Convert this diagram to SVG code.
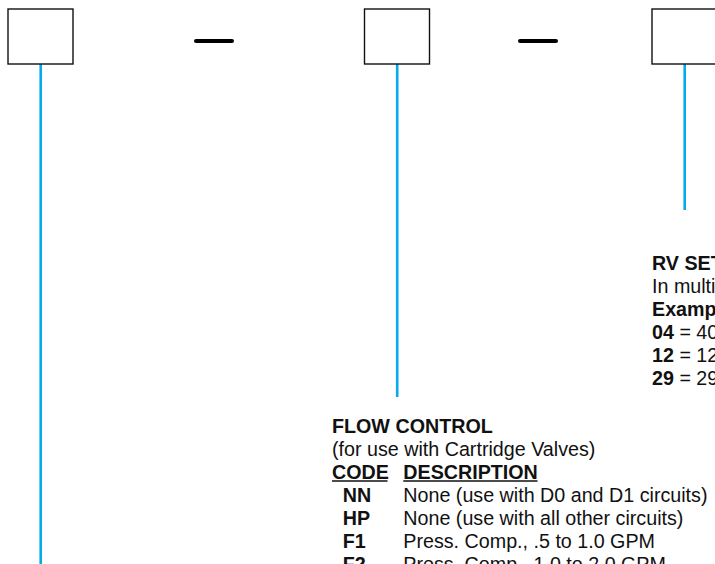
<svg xmlns="http://www.w3.org/2000/svg" width="715" height="564" viewBox="0 0 715 564">
<style>
.box{fill:#fff;stroke:#111;stroke-width:1.4}
.dash{stroke:#000;stroke-width:4;stroke-linecap:round}
.conn{stroke:#05aaea;stroke-width:2.6;fill:none}
text{font-family:"Liberation Sans",Arial,sans-serif;font-size:19.7px;fill:#111}
.b{font-weight:bold}
.ul{stroke:#111;stroke-width:1.5}
</style>
<rect width="715" height="564" fill="#fff"/>
<g id="connectors">
<line class="conn" x1="40.7" y1="64" x2="40.7" y2="564"/>
<line class="conn" x1="397.2" y1="64" x2="397.2" y2="397"/>
<line class="conn" x1="684.7" y1="64" x2="684.7" y2="210"/>
</g>
<g id="box1"><rect class="box" x="8" y="9" width="65" height="55"/></g>
<g id="dash1"><line class="dash" x1="196" y1="41" x2="232" y2="41"/></g>
<g id="box2"><rect class="box" x="364.5" y="9" width="65" height="55"/></g>
<g id="dash2"><line class="dash" x1="520" y1="41" x2="556" y2="41"/></g>
<g id="box3"><rect class="box" x="652" y="9" width="65" height="55"/></g>
<g id="rv-setting">
<text class="b" x="652" y="269.5">RV SET</text>
<text x="652" y="292.5">In multi</text>
<text class="b" x="652" y="315.5">Examp</text>
<text x="652" y="338.5"><tspan class="b">04</tspan> = 40</text>
<text x="652" y="361.5"><tspan class="b">12</tspan> = 12</text>
<text x="652" y="384.5"><tspan class="b">29</tspan> = 29</text>
</g>
<g id="flow-control">
<text class="b" x="332" y="432.5">FLOW CONTROL</text>
<text x="332" y="455.5">(for use with Cartridge Valves)</text>
<text class="b" x="332" y="478.5">CODE</text>
<text class="b" x="403.3" y="478.5">DESCRIPTION</text>
<line class="ul" x1="332" y1="481" x2="387.5" y2="481"/>
<line class="ul" x1="403.3" y1="481" x2="537.5" y2="481"/>
<text class="b" x="342.7" y="501.5">NN</text>
<text x="403.3" y="501.5">None (use with D0 and D1 circuits)</text>
<text class="b" x="342.7" y="524.5">HP</text>
<text x="403.3" y="524.5">None (use with all other circuits)</text>
<text class="b" x="342.7" y="547.5">F1</text>
<text x="403.3" y="547.5">Press. Comp., .5 to 1.0 GPM</text>
<text class="b" x="342.7" y="570.5">F2</text>
<text x="403.3" y="570.5">Press. Comp., 1.0 to 2.0 GPM</text>
</g>
</svg>
